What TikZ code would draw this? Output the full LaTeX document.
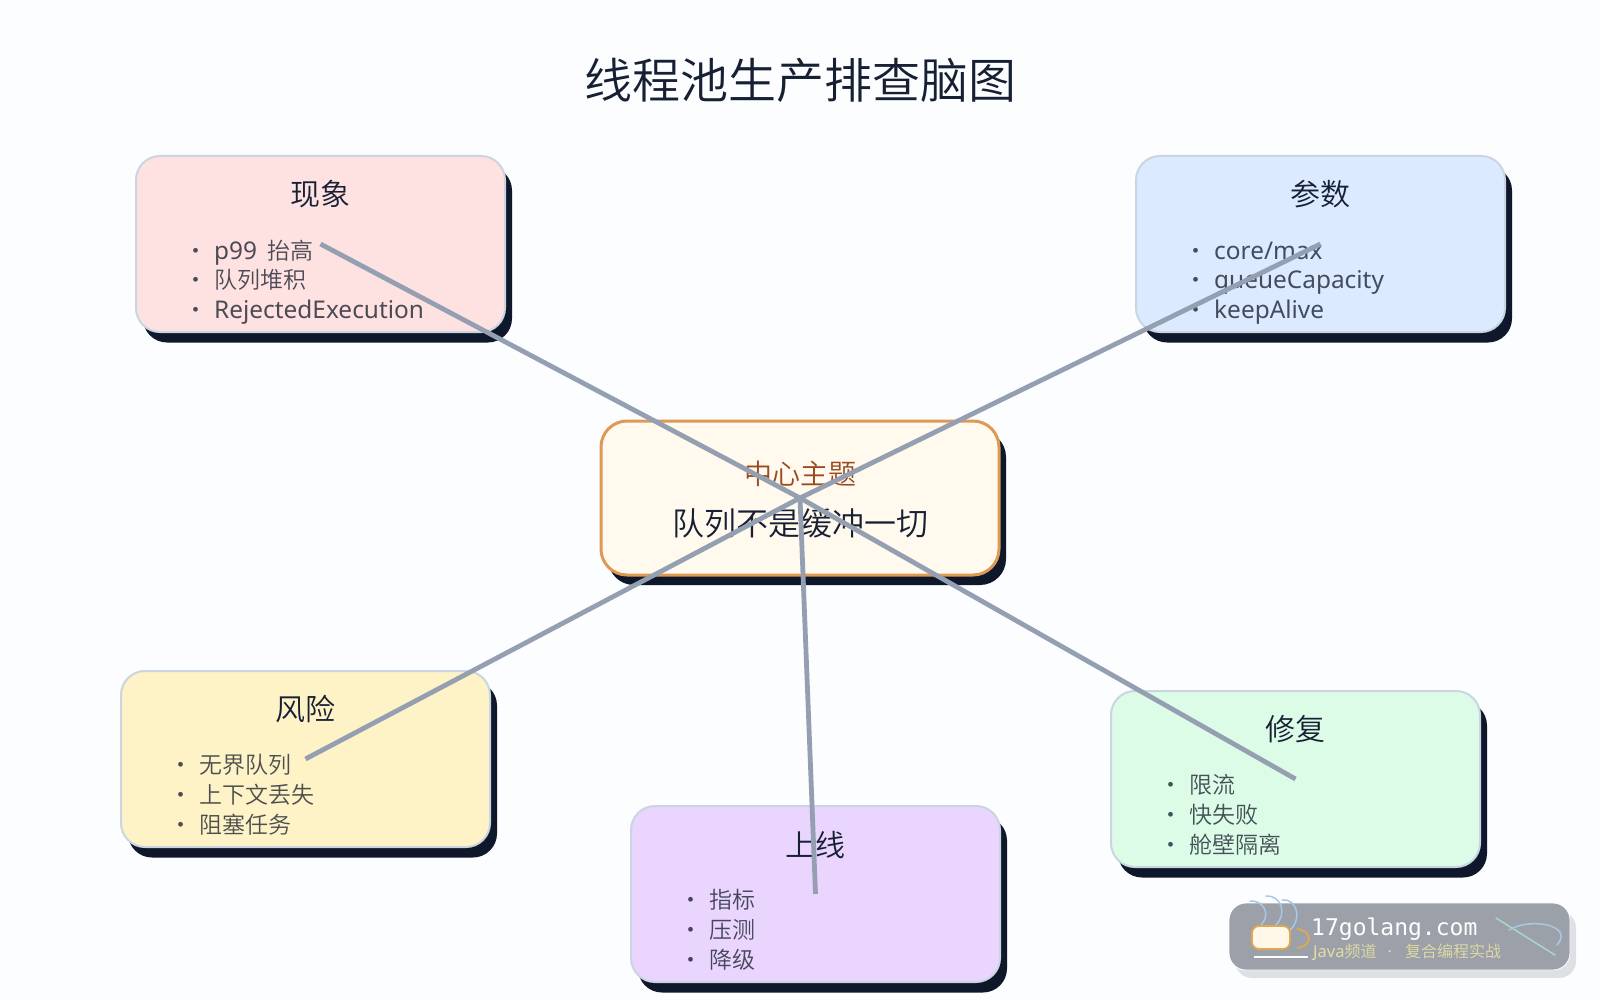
\documentclass[tikz,border=0pt]{standalone}
\usepackage{fontspec}
\usetikzlibrary{shadows}
\setmainfont{Noto Sans}
\newfontfamily\cjk{Noto Sans CJK SC}[UprightFont=* DemiLight]
\newfontfamily\wmono{DejaVu Sans Mono}
\definecolor{pagebg}{HTML}{FBFDFE}
\definecolor{ink}{HTML}{172033}
\definecolor{inkb}{HTML}{111827}
\definecolor{edge}{HTML}{CBD5E1}
\definecolor{shade}{HTML}{0F172A}
\definecolor{link}{HTML}{94A0B2}
\definecolor{fillred}{HTML}{FEE2E2}
\definecolor{fillblue}{HTML}{DBEAFE}
\definecolor{fillyellow}{HTML}{FEF3C7}
\definecolor{fillpurple}{HTML}{E9D5FD}
\definecolor{fillgreen}{HTML}{DCFCE7}
\definecolor{fillhub}{HTML}{FFF9EE}
\definecolor{edgehub}{HTML}{DD9A55}
\definecolor{hubtag}{HTML}{9A4A20}
\definecolor{wmbg}{HTML}{9CA0A8}
\definecolor{wmshadow}{HTML}{DDE0E4}
\definecolor{wmsteam}{HTML}{A8C8E8}
\definecolor{wmcup}{HTML}{E0A850}
\definecolor{wmcupfill}{HTML}{FFF7E8}
\definecolor{wmtext}{HTML}{E3DDA5}
\definecolor{wmline}{HTML}{A7D8C9}
\newcommand{\px}[1]{\fontsize{#1}{#1}\selectfont}
\tikzset{
  topicbox/.style={draw=edge,line width=2pt,rounded corners=24pt,minimum width=369pt,minimum height=176pt,inner sep=0pt,outer sep=0pt,
    general shadow={shadow xshift=7pt,shadow yshift=-10.5pt,fill=shade,opacity=1}},
  hubbox/.style={draw=edgehub,line width=3pt,fill=fillhub,rounded corners=26pt,minimum width=398pt,minimum height=154pt,inner sep=0pt,outer sep=0pt,
    general shadow={shadow xshift=7pt,shadow yshift=-10pt,fill=shade,opacity=1}},
  topichead/.style={text=ink,inner sep=0pt,font=\cjk\px{30}},
  itemrow/.style={anchor=base west,text=inkb,text opacity=.75,inner sep=0pt,font=\cjk\px{23}},
  latinrow/.style={anchor=base west,text=inkb,text opacity=.75,inner sep=0pt,font=\rmfamily\px{24.4}},
  itemdot/.style={anchor=base,text=inkb,text opacity=.75,inner sep=0pt,font=\cjk\px{23}},
  linkline/.style={draw=link,line width=4.8pt},
  wmstroke/.style={line width=1.5pt,line cap=round}
}
% name, dot x, centre y, text, row style
\newcommand{\rowitem}[5][itemrow]{%
  \node[itemdot] (#2d) at (#3+2,#4+8) {·};
  \node[#1] (#2) at (#3+20,#4+8) {#5};
}
\begin{document}
\begin{tikzpicture}[x=1pt,y=-1pt]
\useasboundingbox[fill=pagebg] (0,0) rectangle (1600,1000);

\node[text=ink,inner sep=0pt,font=\cjk\px{48}] (title) at (800.5,80) {线程池生产排查脑图};

\node[hubbox] (hub) at (800,498) {};
\node[topicbox,fill=fillred] (xianxiang) at (320.5,244) {};
\node[topicbox,fill=fillblue] (canshu) at (1320.5,244) {};
\node[topicbox,fill=fillyellow] (fengxian) at (305.5,759) {};
\node[topicbox,fill=fillpurple] (shangxian) at (815.5,894) {};
\node[topicbox,fill=fillgreen] (xiufu) at (1295.5,779) {};

\node[text=hubtag,inner sep=0pt,font=\cjk\px{28}] (hubtag) at (800,474) {中心主题};
\node[text=ink,inner sep=0pt,font=\cjk\px{32}] (hubtext) at (800,523) {队列不是缓冲一切};

\node[topichead] (h1) at (320,194) {现象};
\rowitem[latinrow]{a1}{194}{251}{p99\hspace{4pt} {\cjk\px{23}抬高}}
\rowitem{a2}{194}{280}{队列堆积}
\rowitem[latinrow]{a3}{194}{310}{RejectedExecution}

\node[topichead] (h2) at (1320,194) {参数};
\rowitem[latinrow]{b1}{1194}{251}{core/max}
\rowitem[latinrow]{b2}{1194}{280}{queueCapacity}
\rowitem[latinrow]{b3}{1194}{310}{keepAlive}

\node[topichead] (h3) at (305,709) {风险};
\rowitem{c1}{179}{765}{无界队列}
\rowitem{c2}{179}{795}{上下文丢失}
\rowitem{c3}{179}{825}{阻塞任务}

\node[topichead] (h4) at (815,845) {上线};
\rowitem{d1}{689}{900}{指标}
\rowitem{d2}{689}{930}{压测}
\rowitem{d3}{689}{960}{降级}

\node[topichead] (h5) at (1295,729) {修复};
\rowitem{e1}{1169}{785}{限流}
\rowitem{e2}{1169}{815}{快失败}
\rowitem{e3}{1169}{845}{舱壁隔离}

\draw[linkline] (hub.center) -- (xianxiang.center);
\draw[linkline] (hub.center) -- (canshu.center);
\draw[linkline] (hub.center) -- (fengxian.center);
\draw[linkline] (hub.center) -- (shangxian.center);
\draw[linkline] (hub.center) -- (xiufu.center);

% watermark
\fill[wmshadow,rounded corners=17pt] (1235,911) rectangle (1576,978);
\draw[white,fill=wmbg,line width=.8pt,rounded corners=17pt] (1229,903) rectangle (1570,970);
\draw[wmsteam,wmstroke] (1250,901) .. controls (1262,900) and (1272,913) .. (1261,925);
\draw[wmsteam,wmstroke] (1266,896) .. controls (1280,895) and (1288,912) .. (1276,925);
\draw[wmsteam,wmstroke] (1282,900) .. controls (1296,898) and (1303,918) .. (1290,930);
\draw[wmcup,fill=wmcupfill,line width=1.8pt,rounded corners=7pt] (1252,926) rectangle (1290,949);
\draw[wmcup,line width=1.8pt] (1297,929) .. controls (1313,931) and (1313,946) .. (1297,948);
\draw[white,line width=1.5pt] (1254,957) -- (1308,957);
\node[anchor=base west,inner sep=0pt,text=white,font=\wmono\px{23}] (wm1) at (1311,935) {17golang.com};
\node[anchor=west,inner sep=0pt,text=wmtext,font=\px{16.5}] (wm2) at (1313,952) {Java{\cjk\px{16}频道}\hspace{11pt}·\hspace{13pt}{\cjk\px{16}复合编程实战}};
\draw[wmline,wmstroke] (1496,918) -- (1555,955);
\draw[wmsteam,wmstroke] (1509,930) .. controls (1530,917) and (1575,925) .. (1557,945);
\end{tikzpicture}
\end{document}
